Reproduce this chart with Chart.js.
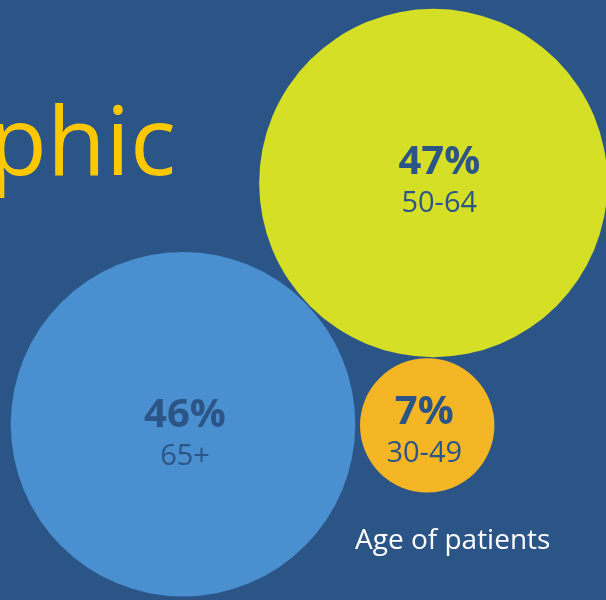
<!DOCTYPE html>
<html>
<head>
<meta charset="utf-8">
<script src="https://cdn.jsdelivr.net/npm/chart.js@4.4.1/dist/chart.umd.min.js"></script>
<style>
    html, body { margin: 0; padding: 0; background: #2c5587; overflow: hidden; }
    #chart { display: block; }
</style>
</head>
<body>
<canvas id="chart" width="606" height="600"></canvas>
<script>
// data
const ageGroups = ['65+', '30-49', '50-64'];
const shares = [46, 7, 47];                 // % of patients
// bubble centres on a 0-100 layout grid
const posX = [30.2, 70.5, 71.5];
const posY = [70.7, 70.9, 30.5];

const colores = ['#4a8fcf', '#f5b625', '#d4df26'];
const RADIO_K = 25.4;                       // px per sqrt(%), area ~ share
const ajusteTexto = [[2, 2], [-3, -2], [6, -10]];

const titulo = 'Demographic';
const nota = 'Age of patients';

const puntos = shares.map((v, i) => ({ x: posX[i], y: posY[i], r: RADIO_K * Math.sqrt(v) }));

// texto de fondo y etiquetas
const etiquetas = {
    id: 'etiquetas',
    beforeDatasetsDraw(chart) {
        const ctx = chart.ctx;
        ctx.save();
        ctx.fillStyle = '#fdc800';
        ctx.font = '96px "Open Sans"';
        ctx.textAlign = 'right';
        ctx.textBaseline = 'alphabetic';
        ctx.fillText(titulo, 176, 175);
        ctx.restore();
    },
    afterDatasetsDraw(chart) {
        const ctx = chart.ctx;
        const meta = chart.getDatasetMeta(0);
        ctx.save();
        ctx.textAlign = 'center';
        ctx.textBaseline = 'alphabetic';
        ctx.fillStyle = '#2c5587';
        meta.data.forEach((el, i) => {
            const dx = ajusteTexto[i][0];
            const dy = ajusteTexto[i][1];
            ctx.font = 'bold 40px "Open Sans"';
            ctx.fillText(shares[i] + '%', el.x + dx, el.y + 1 + dy);
            ctx.font = '29px "Open Sans"';
            ctx.fillText(ageGroups[i], el.x + dx, el.y + 39 + dy);
        });

        ctx.fillStyle = '#ffffff';
        ctx.font = '28px "Open Sans"';
        ctx.textAlign = 'left';
        ctx.fillText(nota, 355, 549);
        ctx.restore();
    }
};

new Chart(document.getElementById('chart'), {
    type: 'bubble',
    data: {
        labels: ageGroups,
        datasets: [{
            data: puntos,
            backgroundColor: colores,
            borderWidth: 0,
            clip: false
        }]
    },
    options: {
        responsive: false,
        animation: false,
        events: [],
        layout: { padding: 0, autoPadding: false },
        plugins: {
            legend: { display: false },
            tooltip: { enabled: false },
            title: { display: false }
        },
        scales: {
            x: { type: 'linear', min: 0, max: 100, display: false },
            y: { type: 'linear', min: 0, max: 100, reverse: true, display: false }
        }
    },
    plugins: [etiquetas]
});
</script>
</body>
</html>
